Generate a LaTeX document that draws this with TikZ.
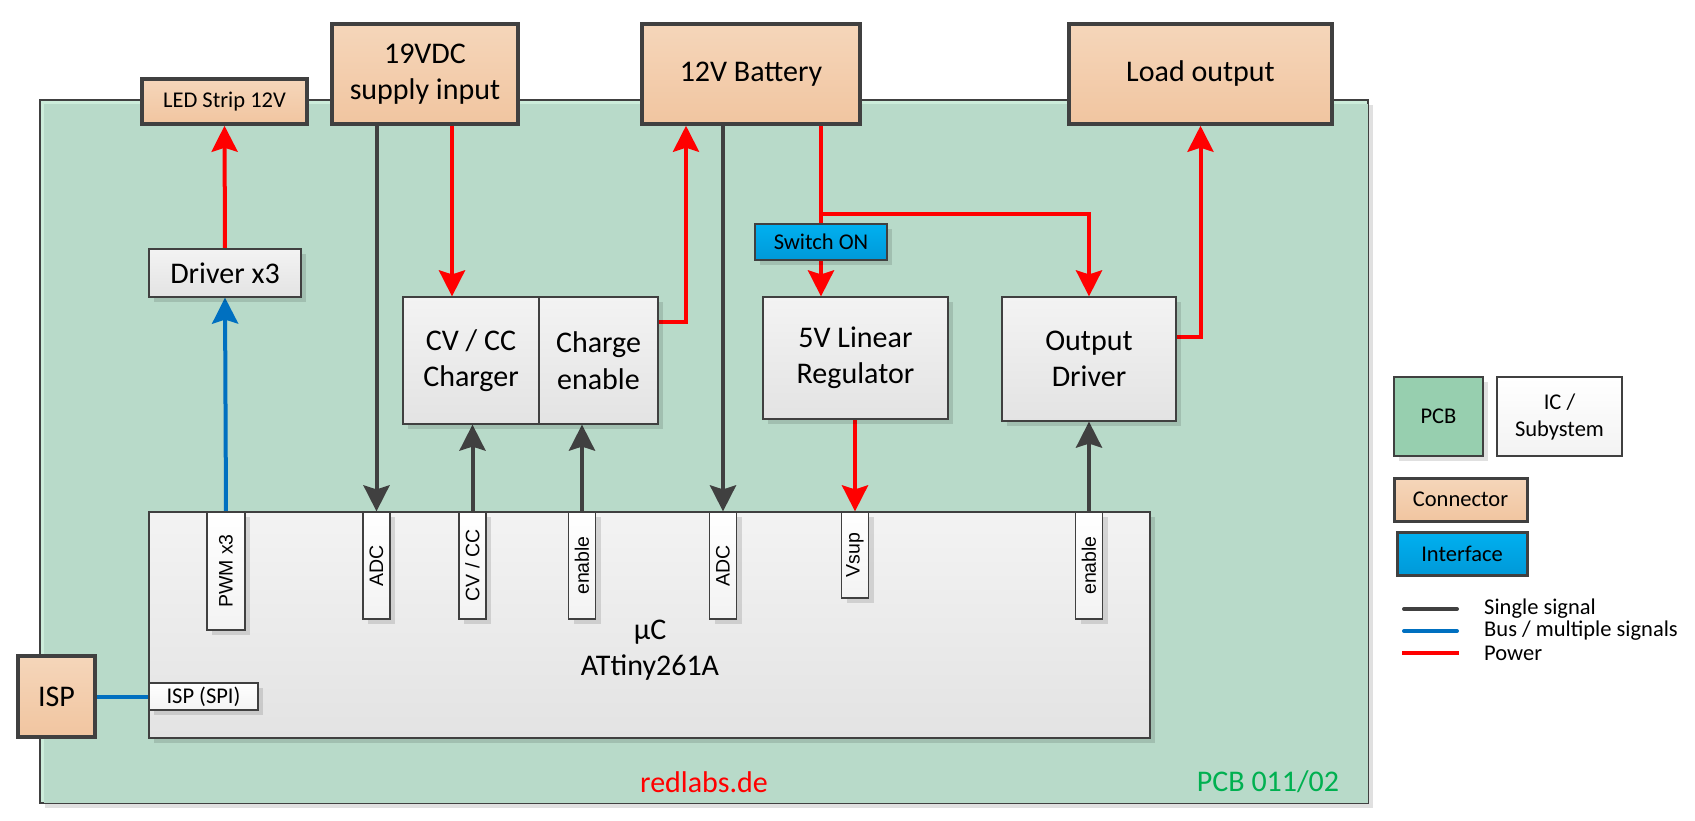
\documentclass[tikz,border=0pt]{standalone}
\usepackage{fontspec}
\setmainfont{Carlito}
\newfontfamily\pinfamily{Liberation Sans}
\usepackage{graphicx}
\usetikzlibrary{arrows.meta,shadows,calc}

\definecolor{pcbgreen}{RGB}{184,218,201}
\definecolor{pcblight}{RGB}{204,236,218}
\definecolor{pcbdark}{RGB}{151,207,175}
\definecolor{conntop}{RGB}{245,214,186}
\definecolor{connbot}{RGB}{241,197,160}
\definecolor{ictop}{RGB}{243,243,243}
\definecolor{icbot}{RGB}{227,227,227}
\definecolor{iftop}{RGB}{0,176,240}
\definecolor{ifbot}{RGB}{0,153,216}
\definecolor{wiregray}{RGB}{64,64,64}
\definecolor{pwrred}{RGB}{255,0,0}
\definecolor{busblue}{RGB}{0,112,192}
\definecolor{tagreen}{RGB}{0,176,80}

\newcommand{\bigtxt}{\fontsize{30}{36.5}\selectfont}
\newcommand{\smalltxt}{\fontsize{22.5}{27}\selectfont}
\newcommand{\pintxt}{\pinfamily\fontsize{19.5}{22}\selectfont}

\pgfdeclarelayer{board}
\pgfdeclarelayer{wires}
\pgfsetlayers{board,wires,main}

\begin{document}
\begin{tikzpicture}[x=1pt, y=-1pt,
    softshadow/.style={drop shadow={shadow xshift=5pt, shadow yshift=-5pt, fill=black, opacity=0.12}},
    pcbbox/.style={rectangle, draw=wiregray, line width=1.2pt, fill=pcblight, softshadow},
    conn/.style={rectangle, draw=wiregray, line width=3.5pt, top color=conntop, bottom color=connbot, font=\bigtxt, align=center, inner sep=0pt},
    icbox/.style={rectangle, draw=wiregray, line width=1.2pt, top color=ictop, bottom color=icbot, font=\bigtxt, align=center, inner sep=0pt, softshadow},
    tagbox/.style={rectangle, draw=wiregray, line width=1.2pt, top color=white, bottom color=ictop, inner sep=0pt, softshadow},
    pinbox/.style={tagbox, font=\pintxt, minimum width=27pt},
    ifbox/.style={rectangle, draw=wiregray, top color=iftop, bottom color=ifbot, font=\smalltxt, inner sep=0pt},
    sigline/.style={draw=wiregray, line width=4pt, -{Stealth[length=26pt, width=26pt, inset=4pt]}},
    pwrline/.style={draw=pwrred, line width=4pt, -{Stealth[length=26pt, width=26pt, inset=4pt]}},
    busline/.style={draw=busblue, line width=4pt},
]
    \useasboundingbox (0,0) rectangle (1695,821);

    % board
    \begin{pgfonlayer}{board}
        \node[pcbbox, minimum width=1328pt, minimum height=703pt] (pcb) at (704,451.5) {};
        \fill[pcbgreen] ([xshift=5pt,yshift=-5pt]pcb.north west) rectangle ([xshift=-0.6pt,yshift=0.6pt]pcb.south east);
    \end{pgfonlayer}

    % connectors
    \node[conn, font=\smalltxt, minimum width=165pt, minimum height=45pt] (led) at (224.5,101.5) {LED Strip 12V};
    \node[conn, minimum width=186pt, minimum height=100pt] (vdc) at (425,74) {19VDC\\supply input};
    \node[conn, minimum width=218pt, minimum height=100pt] (bat) at (751,74) {12V Battery};
    \node[conn, minimum width=263pt, minimum height=100pt] (load) at (1200.5,74) {Load output};
    \node[conn, minimum width=77pt, minimum height=81pt] (isp) at (56.5,696.5) {ISP};

    % blocks
    \node[icbox, minimum width=152pt, minimum height=48pt] (drv) at (225,273) {Driver x3};
    \node[icbox, minimum width=136pt, minimum height=127pt] (chg) at (471,360.5) {CV / CC\\Charger};
    \node[icbox, minimum width=119pt, minimum height=127pt] (chgen) at (598.5,360.5) {Charge\\enable};
    \node[icbox, minimum width=185pt, minimum height=122pt] (reg) at (855.5,358) {5V Linear\\Regulator};
    \node[icbox, minimum width=174pt, minimum height=124pt] (outdrv) at (1089,359) {Output\\Driver};
    \node[ifbox, line width=1.2pt, minimum width=132pt, minimum height=36pt, softshadow] (sw) at (821,242) {Switch ON};

    % microcontroller and its pins
    \node[icbox, minimum width=1001pt, minimum height=226pt] (uc) at (649.5,625) {};
    \node[font=\bigtxt, align=center, inner sep=0pt] (uctext) at (650,650) {µC\\ATtiny261A};
    \node[pinbox, minimum width=38pt, minimum height=118pt] (pwm) at (226,571) {\rotatebox{90}{PWM x3}};
    \node[pinbox, minimum height=107pt] (adca) at (376.5,565.5) {\rotatebox{90}{ADC}};
    \node[pinbox, minimum height=107pt] (cvcc) at (472.5,565.5) {\rotatebox{90}{CV / CC}};
    \node[pinbox, minimum height=107pt] (ena) at (582,565.5) {\rotatebox{90}{enable}};
    \node[pinbox, minimum height=107pt] (adcb) at (723,565.5) {\rotatebox{90}{ADC}};
    \node[pinbox, minimum height=86pt] (vsup) at (855,555) {\rotatebox{90}{Vsup}};
    \node[pinbox, minimum height=107pt] (enb) at (1089,565.5) {\rotatebox{90}{enable}};
    \node[tagbox, font=\smalltxt, minimum width=109pt, minimum height=27pt] (spi) at (203.5,696.5) {ISP (SPI)};

    \node[font=\bigtxt, text=pwrred] (site) at (704,782) {redlabs.de};
    \node[font=\bigtxt, text=tagreen] (pcbno) at (1268,782) {PCB 011/02};

    % connections
    \coordinate (chgin) at ([xshift=-19pt]chg.north);
    \coordinate (chgout) at ([yshift=38.5pt]chgen.east);
    \coordinate (batin) at ([xshift=-65pt]bat.south);
    \coordinate (batout) at ([xshift=70pt]bat.south);
    \coordinate (batsplit) at ([yshift=-88pt]batout);
    \coordinate (outpwr) at ([yshift=22pt]outdrv.east);
    \begin{pgfonlayer}{wires}
        \draw[pwrline] (drv.north) -- (led.south);
        \draw[busline, -{Stealth[length=26pt, width=26pt, inset=4pt]}] (pwm.north) -- (drv.south);
        \draw[sigline] (adca.north |- vdc.south) -- (adca.north);
        \draw[pwrline] (chgin |- vdc.south) -- (chgin);
        \draw[sigline] (cvcc.north) -- (cvcc.north |- chg.south);
        \draw[sigline] (ena.north) -- (ena.north |- chgen.south);
        \draw[pwrline] (chgout) -| (batin);
        \draw[sigline] (adcb.north |- bat.south) -- (adcb.north);
        \draw[pwrline] (batout) -- (batout |- reg.north);
        \draw[pwrline] (batsplit) -| (outdrv.north);
        \draw[pwrline] (vsup.north |- reg.south) -- (vsup.north);
        \draw[sigline] (enb.north) -- (outdrv.south);
        \draw[pwrline] (outpwr) -| (load.south);
        \draw[busline] (isp.east) -- (spi.west);
    \end{pgfonlayer}

    % legend
    \node[rectangle, draw=wiregray, line width=1.2pt, fill=pcbdark, font=\smalltxt, softshadow, minimum width=89pt, minimum height=79pt] (legpcb) at (1438.5,416.5) {PCB};
    \node[rectangle, draw=wiregray, line width=1.2pt, top color=white, bottom color=ictop, font=\smalltxt, align=center, inner sep=0pt, minimum width=125pt, minimum height=79pt] (legic) at (1559.5,416.5) {IC /\\Subystem};
    \node[conn, line width=3pt, font=\smalltxt, minimum width=133pt, minimum height=43pt] (legconn) at (1460.5,499.5) {Connector};
    \node[ifbox, line width=3pt, minimum width=130pt, minimum height=43pt] (legif) at (1462,553.5) {Interface};
    \draw[wiregray, line width=4pt, line cap=round] (1404,609) -- (1457,609);
    \draw[busblue, line width=4pt, line cap=round] (1404,631) -- (1457,631);
    \draw[pwrred, line width=3.3pt] (1402,653) -- (1459,653);
    \node[font=\smalltxt, anchor=west, inner sep=0pt] (legsig) at (1484,609) {Single signal};
    \node[font=\smalltxt, anchor=west, inner sep=0pt] (legbus) at (1484,631) {Bus / multiple signals};
    \node[font=\smalltxt, anchor=west, inner sep=0pt] (legpwr) at (1484,653) {Power};
\end{tikzpicture}
\end{document}
